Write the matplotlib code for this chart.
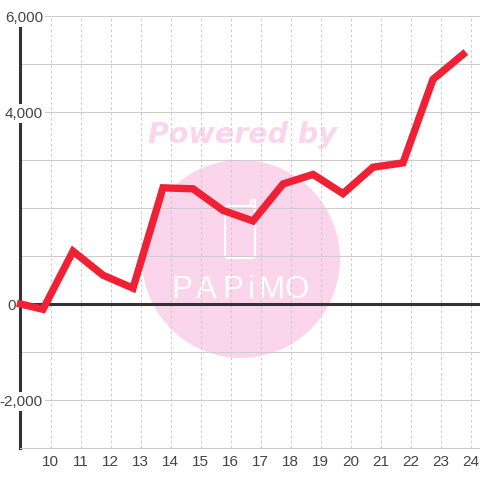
import matplotlib
matplotlib.use('Agg')
import matplotlib.pyplot as plt
from matplotlib.patches import Circle, FancyBboxPatch
from matplotlib.lines import Line2D
from matplotlib.transforms import IdentityTransform, blended_transform_factory

hours = [9.0, 9.75, 10.75, 11.75, 12.75, 13.75, 14.75, 15.75, 16.75, 17.75,
         18.75, 19.75, 20.75, 21.75, 22.75, 23.75]
values = [0, -110, 1100, 600, 330, 2420, 2400, 1950, 1730, 2500,
          2700, 2300, 2850, 2940, 4680, 5200]
x_ticks = list(range(10, 25))
y_major = [6000, 4000, 0, -2000]
y_grid = [6000, 5000, 4000, 3000, 2000, 1000, -1000, -2000, -3000]

plt.rcParams['font.family'] = ['Liberation Sans', 'DejaVu Sans']

W = 480
fig = plt.figure(figsize=(4.8, 4.8), dpi=100, facecolor='white')
ax = fig.add_axes([20 / W, 32 / W, 460 / W, 432 / W])
ax.patch.set_alpha(0)
ax.set_xlim(10 - 30.5 / 30, 24 + 9.5 / 30)
ax.set_ylim(-3000, 6000)


# watermark lives in figure pixels, behind the axes
def fx(px):
    return px / W


def fy(py):
    return 1 - py / W


PINK = '#fbd5ec'
fig.add_artist(Circle((fx(241), fy(259)), 99 / W, transform=fig.transFigure,
                      fc=PINK, ec='none', zorder=-3))
fig.text(fx(242), fy(135), 'Powered by', color=PINK, fontsize=20.5, ha='center', va='center',
         family='DejaVu Sans', weight='bold', style='italic', zorder=-2)
fig.add_artist(FancyBboxPatch((fx(225), fy(258)), 30 / W, 52 / W, boxstyle='round,pad=0,rounding_size=0.006',
                              transform=fig.transFigure, fc='none', ec='white', lw=1.6, zorder=-2))
fig.add_artist(Line2D([fx(250), fx(252), fx(255), fx(255)], [fy(206), fy(200), fy(200), fy(208)],
                      color='white', lw=1.6, transform=fig.transFigure, zorder=-2))
for name, px in zip('PAPiMO', [182, 206, 233, 251, 271, 297]):
    fig.text(fx(px), fy(290), name, color='white', fontsize=22.5, ha='center', va='center',
             family='Liberation Sans', zorder=-2)

ax.set_yticks(y_grid)
ax.set_xticks(x_ticks)
ax.set_yticklabels([])
ax.tick_params(axis='y', length=0)
ax.tick_params(axis='x', length=0, pad=5, labelsize=11, labelcolor='#444444')
ax.grid(axis='y', color='#cccccc', lw=0.75)
ax.grid(axis='x', color='#cccccc', lw=0.75, linestyle=(0, (2.5, 2.5)))
ax.set_axisbelow(True)

for s in ['top', 'right']:
    ax.spines[s].set_visible(False)
ax.spines['bottom'].set_color('#cccccc')
ax.spines['bottom'].set_linewidth(0.75)
ax.spines['left'].set_color('#333333')
ax.spines['left'].set_linewidth(2.2)
ax.spines['left'].set_zorder(2)

ax.axhline(0, color='#333333', lw=2.2, zorder=2)

label_trans = blended_transform_factory(IdentityTransform(), ax.transData)
for v in y_major:
    # the zero label sits left of the axis, the others run over it
    right = 16 if v == 0 else 43
    ax.text(right, v, f'{v:,}', transform=label_trans,
            ha='right', va='center_baseline', fontsize=11, color='#444444', zorder=3, clip_on=False,
            bbox=dict(fc='white', ec='none', pad=1.5))

ax.plot(hours, values, color='#f02035', lw=5.3, zorder=4, clip_on=False,
        solid_joinstyle='miter', solid_capstyle='projecting')

fig.savefig('out.png', dpi=100)
